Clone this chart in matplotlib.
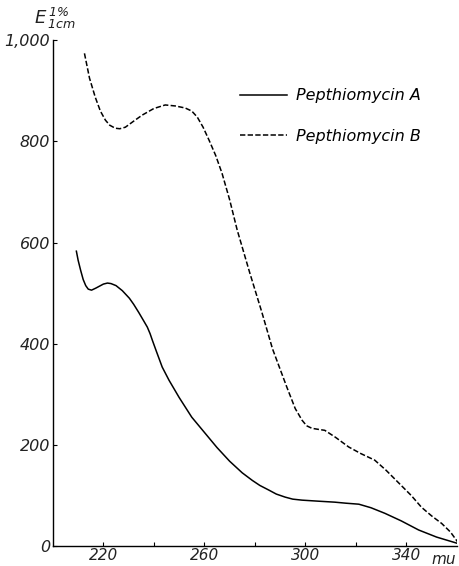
import numpy as np
import matplotlib.pyplot as plt

# wavelength (m-mu) and extinction values
wl_a = [209.3, 210, 211, 212, 213, 214, 215.3, 217, 218.5, 220, 221.6, 223, 225,
        227.5, 230.3, 232, 234, 236, 237.4, 238.5, 239.4, 241, 243.3, 246,
        250, 255, 260, 265, 270, 275, 279, 282, 285.5, 288.5, 292, 295, 298.7,
        305, 311.7, 316, 321.2, 326, 331.5, 338, 344.9, 352, 360]
ext_a = [583, 565, 545, 527, 515, 508, 506, 510, 514, 518, 520, 519, 515,
         505, 490, 478, 462, 445, 433, 420, 407, 385, 354, 328,
         294, 255, 225, 195, 168, 145, 130, 120, 111, 103, 97, 93, 91,
         89, 87, 85, 83, 76, 65, 50, 32, 18, 6]

wl_b = [212.5, 214.5, 216.8, 218.8, 220.8, 222.5, 224.7, 226.5, 228.7, 232, 235.4,
        240, 244.5, 248.5, 252.4, 255, 257.2, 259.5, 261.9, 264.5, 267, 270,
        273, 278, 282.8, 287, 292.7, 296, 298.7, 300.5, 302.6, 305, 307.7, 312,
        317.2, 322, 327.5, 332, 337, 342, 346, 350, 354, 357.5, 360.7]
ext_b = [974, 925, 887, 860, 842, 832, 826, 825, 828, 840, 852,
         865, 872, 870, 866, 860, 848, 828, 802, 772, 737, 685,
         625, 540, 462, 390, 314, 272, 249, 238, 233, 231, 229, 215,
         196, 183, 170, 150, 125, 100, 77, 60, 45, 28, 6]

xticks = [220, 260, 300, 340]
xlabels = ["220", "260", "300", "340"]
xminor = [240, 280, 320]
yticks = [0, 200, 400, 600, 800, 1000]
ylabels = ["0", "200", "400", "600", "800", "1,000"]

plt.rcParams["font.family"] = ["DejaVu Sans"]
plt.rcParams["font.style"] = "italic"

fig = plt.figure(figsize=(4.6, 5.66), dpi=100)
ax = fig.add_axes([0.115, 0.035, 0.878, 0.894])

ax.plot(wl_a, ext_a, color="black", lw=1.1, label="Pepthiomycin A")
ax.plot(wl_b, ext_b, color="black", lw=1.1, ls=(0, (3.5, 1.5)), label="Pepthiomycin B")

ax.set_xlim(200, 360)
ax.set_ylim(0, 1000)
ax.set_xticks(xticks)
ax.set_xticklabels(xlabels, fontsize=11, style="italic", color="#222222")
ax.set_xticks(xminor, minor=True)
ax.set_yticks(yticks)
ax.set_yticklabels(ylabels, fontsize=11.5, style="italic", color="#222222")
ax.tick_params(axis="both", which="both", direction="in", length=3, width=0.8, pad=2)
ax.tick_params(axis="x", pad=1)

for s in ["top", "right"]:
    ax.spines[s].set_visible(False)
ax.spines["left"].set_linewidth(1.0)
ax.spines["bottom"].set_linewidth(1.0)

fig.text(0.937, 0.004, "mu", fontsize=11, style="italic", color="#222222")
fig.text(0.075, 0.958, r"$E^{\,1\%}_{\,1cm}$", fontsize=13, color="#222222")

leg = ax.legend(loc="upper left", bbox_to_anchor=(0.464, 0.905), frameon=False,
                borderpad=0, borderaxespad=0,
                handlelength=2.9, handletextpad=0.6, labelspacing=1.6,
                prop={"size": 11.5, "style": "italic"})

fig.savefig("out.png", dpi=100)
